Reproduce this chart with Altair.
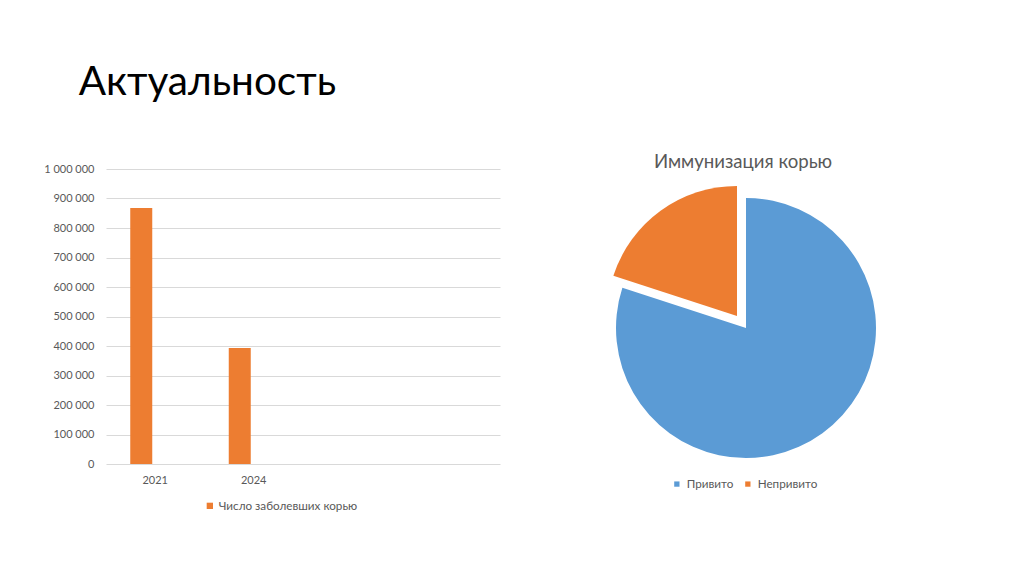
import altair as alt
import pandas as pd

# ---- data ----
years = ["2021", "2024", " ", "  "]
cases_years = ["2021", "2024"]
cases = [868000, 393000]
series_name = "Число заболевших корью"

pie_labels = ["Привито", "Непривито"]
pie_values = [80, 20]

y_ticks = [0, 100000, 200000, 300000, 400000, 500000, 600000, 700000, 800000, 900000, 1000000]

FONT = "Lato"
GRAY = "#595959"
ORANGE = "#ED7D31"
BLUE = "#5B9BD5"

bar_df = pd.DataFrame({"year": cases_years, "cases": cases, "series": [series_name] * len(cases)})

bar = alt.Chart(bar_df).mark_bar(size=22, xOffset=-14, color=ORANGE).encode(
    x=alt.X("year:N",
            scale=alt.Scale(domain=years, paddingInner=0, paddingOuter=0),
            axis=alt.Axis(title=None, labelAngle=0, ticks=False, domain=False,
                          labelPadding=10, labelFontSize=11, labelColor=GRAY, labelFont=FONT)),
    y=alt.Y("cases:Q",
            scale=alt.Scale(domain=[0, 1000000]),
            axis=alt.Axis(title=None, values=y_ticks,
                          labelExpr="replace(format(datum.value, ','), regexp(',', 'g'), ' ')",
                          grid=True, gridColor="#D9D9D9", domain=False, ticks=False,
                          labelPadding=12, labelFontSize=11, labelColor=GRAY, labelFont=FONT)),
    color=alt.Color("series:N",
                    scale=alt.Scale(domain=[series_name], range=[ORANGE]),
                    legend=alt.Legend(orient="none", legendX=98, legendY=331, title=None,
                                      symbolType="square", symbolSize=40, symbolStrokeWidth=0,
                                      labelOffset=3,
                                      labelFontSize=11.7, labelColor=GRAY, labelFont=FONT,
                                      direction="horizontal")),
).properties(width=394, height=295)

pie_df = pd.DataFrame({"label": pie_labels, "value": pie_values, "order": [0, 1]})

pie_base = alt.Chart(pie_df).encode(
    theta=alt.Theta("value:Q", stack=True),
    order=alt.Order("order:Q"),
    color=alt.Color("label:N",
                    scale=alt.Scale(domain=pie_labels, range=[BLUE, ORANGE]),
                    sort=pie_labels,
                    legend=alt.Legend(orient="none", legendX=75, legendY=309, title=None,
                                      symbolType="square", symbolSize=28, symbolStrokeWidth=0,
                                      labelOffset=4,
                                      labelFontSize=11.7, labelColor=GRAY, labelFont=FONT,
                                      direction="horizontal", columnPadding=8)),
)

pie_main = pie_base.mark_arc(radius=130, stroke=None).encode(
    x=alt.value(150), y=alt.value(159),
    opacity=alt.condition(alt.datum.label == "Привито", alt.value(1), alt.value(0)),
)
pie_expl = pie_base.mark_arc(radius=130, stroke=None).encode(
    x=alt.value(141), y=alt.value(147),
    opacity=alt.condition(alt.datum.label == "Непривито", alt.value(1), alt.value(0)),
)

pie = alt.layer(pie_main, pie_expl).properties(
    width=300, height=295,
    title=alt.TitleParams("Иммунизация корью", fontSize=18.6, font=FONT, fontWeight="normal",
                          color=GRAY, anchor="middle", dx=-3, offset=-3),
)

chart = alt.hconcat(bar, pie, spacing=96, bounds="flush").properties(
    title=alt.TitleParams("Актуальность", anchor="start", fontSize=40.5, font=FONT,
                          fontWeight="normal", color="black", dx=35, offset=50),
    padding={"left": 35, "top": 54, "right": 5, "bottom": 5},
).resolve_scale(color="independent").configure(
    font=FONT, view=alt.ViewConfig(stroke=None)
)

chart.save("out.html", embed_options={"renderer": "svg", "actions": False})
